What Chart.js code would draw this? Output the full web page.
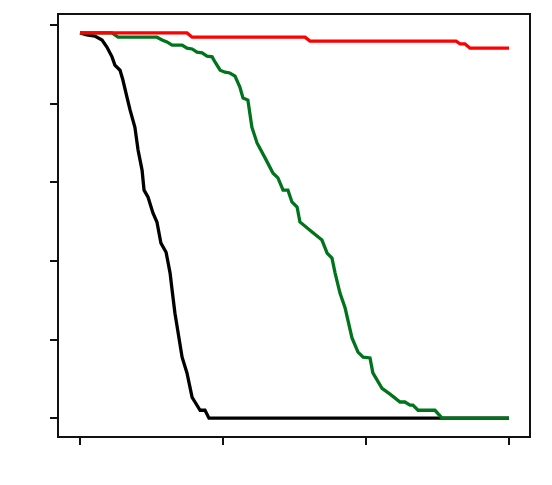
<!DOCTYPE html>
<html>
<head>
<meta charset="utf-8">
<script src="https://cdn.jsdelivr.net/npm/chart.js@4.4.1/dist/chart.umd.min.js"></script>
<style>
  html, body { margin: 0; padding: 0; background: #fff; }
  #wrap { width: 552px; height: 485px; }
</style>
</head>
<body>
<div id="wrap"><canvas id="survivalChart"></canvas></div>
<script>
const xTicks = [0, 50, 100, 150];
const yTicks = [0, 0.2, 0.4, 0.6, 0.8, 1.0];

const redX = [0, 37.4, 39.2, 78.7, 80.4, 131.5, 132.9, 134.6, 136.4, 150];
const redY = [0.980, 0.980, 0.969, 0.969, 0.959, 0.959, 0.952, 0.952, 0.941, 0.941];

const blackX = [0, 2.4, 5.2, 7.7, 9.4, 11.2, 12.2, 14.0, 15.0, 16.4, 17.5, 19.2, 20.3, 21.7, 22.4, 23.8,
    25.5, 26.9, 28.3, 30.1, 31.5, 32.2, 33.2, 35.7, 37.4, 39.2, 40.2, 42.0, 43.7, 45.1, 150];
const blackY = [0.980, 0.975, 0.972, 0.962, 0.944, 0.919, 0.898, 0.885, 0.860, 0.817, 0.784, 0.740, 0.682, 0.631, 0.580, 0.562,
    0.522, 0.499, 0.445, 0.422, 0.369, 0.326, 0.267, 0.155, 0.115, 0.053, 0.041, 0.020, 0.020, 0, 0];

const greenX = [0, 11.2, 13.3, 26.9, 28.7, 30.4, 32.2, 35.7, 37.4, 39.2, 40.9, 42.7, 44.4, 46.2, 47.2, 49.0,
    50.7, 52.4, 54.2, 55.9, 57.0, 58.7, 60.1, 61.9, 64.7, 67.5, 69.2, 71.0, 72.7, 74.1, 75.9, 76.9,
    80.4, 84.6, 86.4, 88.1, 89.2, 90.9, 92.7, 95.1, 97.2, 99.0, 101.4, 102.4, 105.6, 108.4, 111.9, 113.6,
    115.4, 116.4, 118.2, 124.1, 126.6, 150];
const greenY = [0.980, 0.980, 0.969, 0.969, 0.962, 0.957, 0.949, 0.949, 0.941, 0.939, 0.931, 0.929, 0.921, 0.919, 0.906, 0.885,
    0.880, 0.878, 0.870, 0.842, 0.814, 0.809, 0.740, 0.700, 0.662, 0.623, 0.611, 0.580, 0.580, 0.550, 0.537, 0.499,
    0.478, 0.453, 0.420, 0.407, 0.369, 0.318, 0.280, 0.204, 0.168, 0.155, 0.153, 0.115, 0.076, 0.061, 0.041, 0.041,
    0.033, 0.033, 0.020, 0.020, 0, 0];

function toPoints(xs, ys) {
    return xs.map((x, i) => ({ x: x, y: ys[i] }));
}

// box around the plot area
const frame = {
    id: "frame",
    afterDraw(chart) {
        const a = chart.chartArea;
        const ctx = chart.ctx;
        ctx.save();
        ctx.strokeStyle = "#111";
        ctx.lineWidth = 2;
        ctx.strokeRect(a.left, a.top, a.right - a.left, a.bottom - a.top);
        ctx.restore();
    }
};

function lineSet(data, color) {
    return {
        data: data,
        borderColor: color,
        borderWidth: 3.3,
        pointRadius: 0,
        tension: 0,
        fill: false
    };
}

new Chart("survivalChart", {
    type: "line",
    data: {
        datasets: [
            lineSet(toPoints(redX, redY), "#ff0000"),
            lineSet(toPoints(greenX, greenY), "#00741c"),
            lineSet(toPoints(blackX, blackY), "#000000")
        ]
    },
    options: {
        responsive: true,
        maintainAspectRatio: false,
        animation: false,
        layout: { padding: { left: 50, right: 22, top: 14, bottom: 40 } },
        plugins: { legend: { display: false }, tooltip: { enabled: false } },
        scales: {
            x: {
                type: "linear",
                min: -7.69,
                max: 157.34,
                afterBuildTicks: (s) => { s.ticks = xTicks.map(v => ({ value: v })); },
                ticks: { display: false },
                border: { display: false },
                grid: { drawOnChartArea: false, color: "#111", lineWidth: 2, tickLength: 8 }
            },
            y: {
                type: "linear",
                min: -0.048,
                max: 1.028,
                afterBuildTicks: (s) => { s.ticks = yTicks.map(v => ({ value: v })); },
                ticks: { display: false },
                border: { display: false },
                grid: { drawOnChartArea: false, color: "#111", lineWidth: 2, tickLength: 8 }
            }
        }
    },
    plugins: [frame]
});
</script>
</body>
</html>
